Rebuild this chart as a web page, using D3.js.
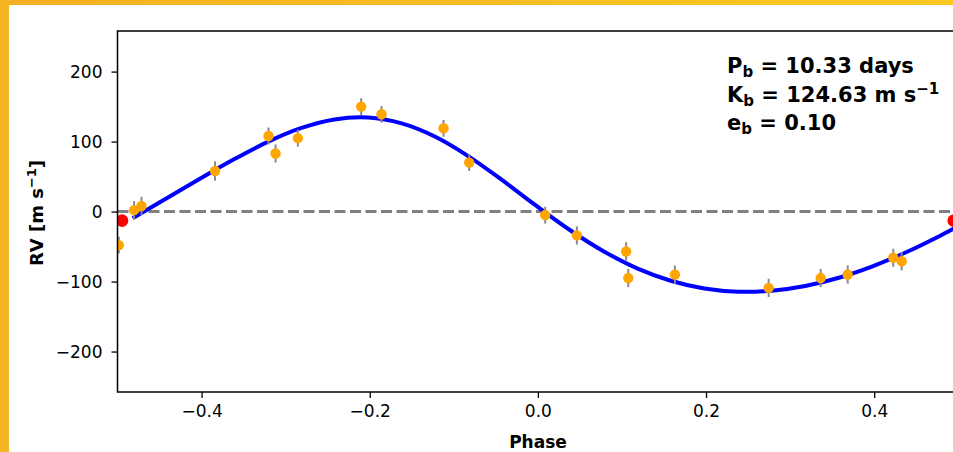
<!DOCTYPE html>
<html>
<head>
<meta charset="utf-8">
<script src="https://cdn.jsdelivr.net/npm/d3@7"></script>
<style>
html,body{margin:0;padding:0;background:#fff;overflow:hidden;}
text{font-family:"DejaVu Sans",sans-serif;}
</style>
</head>
<body>
<svg id="c" width="953" height="452"></svg>
<script>
// ---- data ----
const obsPhase = [-0.4985,-0.4803,-0.4715,-0.384,-0.3204,-0.312,-0.2855,-0.2102,-0.186,-0.1122,-0.0817,0.0087,0.0464,0.105,0.1075,0.163,0.2745,0.3364,0.3685,0.4227,0.4327];
const obsRV    = [-48,2,8,58,108,83,105,150,139,119,70,-5,-34,-57,-95,-90,-109,-95,-90,-66,-71];
const obsErr   = [12,13,13,14,12,13,12,12,12,12,12,12,13,13,13,13,13,13,13,13,13];
const redPhase = [-0.4946,0.4946];
const redRV    = [-13,-13];
const modelPhase = [-0.482,-0.442,-0.402,-0.362,-0.322,-0.282,-0.242,-0.202,-0.162,-0.122,-0.082,-0.042,-0.002,0.038,0.078,0.118,0.158,0.198,0.238,0.278,0.318,0.358,0.398,0.438,0.478,0.518];
const modelRV    = [-9.5,18.7,46.9,74.3,99.2,119.1,131.6,134.3,126.0,106.9,78.6,44.5,8.4,-26.3,-56.6,-81.1,-98.8,-109.8,-114.4,-113.1,-106.3,-94.5,-78.2,-58.1,-34.8,-9.5];
const xTicks = [-0.4,-0.2,0.0,0.2,0.4];
const yTicks = [-200,-100,0,100,200];
const annot = [["P","10.33 days",null],["K","124.63 m s","−1"],["e","0.10",null]];

// ---- layout ----
const svg = d3.select("#c");
const L = 117.5, T = 31, B = 392, R = 958.25;
const x = d3.scaleLinear().domain([-0.5,0.5]).range([L,R]);
const y = d3.scaleLinear().domain([-257.8,258]).range([B,T]);

// yellow frame
const defs = svg.append("defs");
const g1 = defs.append("linearGradient").attr("id","yg").attr("x1","0").attr("x2","1").attr("y1","0").attr("y2","0");
g1.append("stop").attr("offset","0").attr("stop-color","#F4B023");
g1.append("stop").attr("offset","1").attr("stop-color","#F9C922");
svg.append("rect").attr("x",0).attr("y",0).attr("width",953).attr("height",5).attr("fill","url(#yg)");
svg.append("rect").attr("x",0).attr("y",0).attr("width",9).attr("height",452).attr("fill","#F5B424");

defs.append("clipPath").attr("id","pc").append("rect")
  .attr("x",L).attr("y",T).attr("width",R-L).attr("height",B-T);

const plot = svg.append("g").attr("clip-path","url(#pc)");

// zero line
plot.append("line").attr("x1",x(-0.5)).attr("x2",x(0.5)).attr("y1",y(0)).attr("y2",y(0))
  .attr("stroke","#808080").attr("stroke-width",3).attr("stroke-dasharray","11,4.5");

// model curve
const md = modelPhase.map((p,i)=>[p,modelRV[i]]);
plot.append("path").datum(md)
  .attr("d", d3.line().x(d=>x(d[0])).y(d=>y(d[1])).curve(d3.curveCatmullRom.alpha(0.5)))
  .attr("fill","none").attr("stroke","#0000FF").attr("stroke-width",4);

// error bars
const obs = obsPhase.map((p,i)=>({p, v:obsRV[i], e:obsErr[i]}));
plot.selectAll("line.err").data(obs).join("line").attr("class","err")
  .attr("x1",d=>x(d.p)).attr("x2",d=>x(d.p))
  .attr("y1",d=>y(d.v-d.e)).attr("y2",d=>y(d.v+d.e))
  .attr("stroke","#8a8a8a").attr("stroke-width",2);
plot.selectAll("circle.obs").data(obs).join("circle").attr("class","obs")
  .attr("cx",d=>x(d.p)).attr("cy",d=>y(d.v)).attr("r",5.2).attr("fill","#FFA500");

// red points
plot.selectAll("circle.red").data(redPhase.map((p,i)=>[p,redRV[i]])).join("circle").attr("class","red")
  .attr("cx",d=>x(d[0])).attr("cy",d=>y(d[1])).attr("r",6.3).attr("fill","#FF0000");

// frame
svg.append("path").attr("d",`M${R},${T}H${L}V${B}H${R}`).attr("fill","none")
  .attr("stroke","#000").attr("stroke-width",1.5);

// axes
const fx = d3.format(".1f");
const xa = svg.append("g").attr("transform",`translate(0,${B})`)
  .call(d3.axisBottom(x).tickValues(xTicks).tickFormat(fx).tickSize(6).tickPadding(7));
const ya = svg.append("g").attr("transform",`translate(${L},0)`)
  .call(d3.axisLeft(y).tickValues(yTicks).tickFormat(d3.format("d")).tickSize(6).tickPadding(9));
[xa,ya].forEach(a=>{
  a.select(".domain").remove();
  a.selectAll(".tick line").attr("stroke","#000").attr("stroke-width",1.3);
  a.selectAll(".tick text").attr("fill","#000").style("font-size","17px").style("font-family","DejaVu Sans");
});
xa.selectAll(".tick text").attr("dy","0.71em");
ya.selectAll(".tick text").attr("dy","0.35em");

// axis labels
svg.append("text").attr("x",538).attr("y",448).attr("text-anchor","middle")
  .style("font-size","17px").style("font-weight","bold").text("Phase");
const yl = svg.append("text").attr("transform","translate(43,213) rotate(-90)").attr("text-anchor","middle")
  .style("font-size","18px").style("font-weight","bold");
yl.append("tspan").text("RV [m s");
yl.append("tspan").attr("dy",-7).style("font-size","13px").text("−1");
yl.append("tspan").attr("dy",7).text("]");

// annotation
const baselines = [73,101.5,130];
annot.forEach((a,i)=>{
  const t = svg.append("text").attr("x",727).attr("y",baselines[i]).style("font-size","21px").style("font-weight","bold");
  t.append("tspan").text(a[0]);
  t.append("tspan").attr("dy",4).style("font-size","15px").text("b");
  t.append("tspan").attr("dy",-4).text(" = " + a[1]);
  if(a[2]){ t.append("tspan").attr("dy",-8).style("font-size","15px").text(a[2]); }
});
</script>
</body>
</html>
